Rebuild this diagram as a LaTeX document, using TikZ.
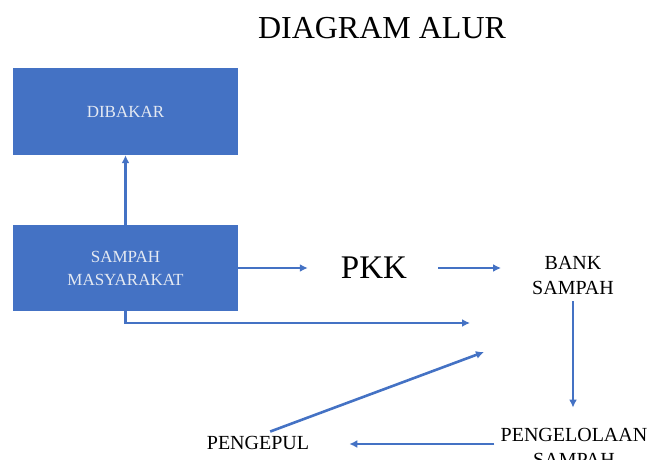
\documentclass[tikz,border=0pt]{standalone}
\usepackage{fontspec}
\setmainfont{Liberation Serif}
\usetikzlibrary{arrows.meta}
\definecolor{boxblue}{HTML}{4472C4}
\definecolor{boxtext}{HTML}{E4E9F2}
\begin{document}
\begin{tikzpicture}[x=1pt,y=-1pt,
  bluebox/.style={rectangle,fill=boxblue,minimum width=225pt,inner sep=0pt,
    text=boxtext,align=center,font=\fontsize{17}{23}\selectfont},
  label/.style={align=center,inner sep=0pt,font=\fontsize{20}{25}\selectfont},
  arr/.style={draw=boxblue,line width=2.6pt,-{Latex[length=8pt,width=8pt]}}]
\useasboundingbox (0,0) rectangle (651,460);
% title
\node[font=\fontsize{32}{34}\selectfont] (title) at (382,28) {DIAGRAM ALUR};
% boxes
\node[bluebox,minimum height=87pt] (dibakar) at (125.5,111.5) {DIBAKAR};
\node[bluebox,minimum height=86pt] (sampah) at (125.5,268) {SAMPAH\\MASYARAKAT};
% plain labels
\node[font=\fontsize{33}{35}\selectfont,inner sep=0pt] (pkk) at (374,268) {PKK};
\node[label] (bank) at (573,275) {BANK\\SAMPAH};
\node[label] (olah) at (574,447) {PENGELOLAAN\\SAMPAH};
\node[label] (pengepul) at (258,443) {PENGEPUL};
% merge points
\coordinate (m1) at (470,323);
\coordinate (m2) at (484,352);
% connectors
\draw[arr] (sampah.north) -- (dibakar.south);
\draw[arr,shorten >=33pt] (sampah.east) -- (sampah.east -| pkk.west);
\draw[arr,shorten <=31pt,shorten >=31pt] (pkk.east) -- (pkk.east -| bank.west);
\draw[arr,shorten <=7pt,shorten >=20pt] (bank.south) -- (bank.south |- olah.north);
\draw[arr,shorten <=6pt,shorten >=40pt] (olah.west |- 0,444) -- (pengepul.east |- 0,444);
\draw[arr,shorten <=13pt] (pengepul.north) -- (m2);
\draw[arr] (sampah.south) |- (m1);
\end{tikzpicture}
\end{document}
